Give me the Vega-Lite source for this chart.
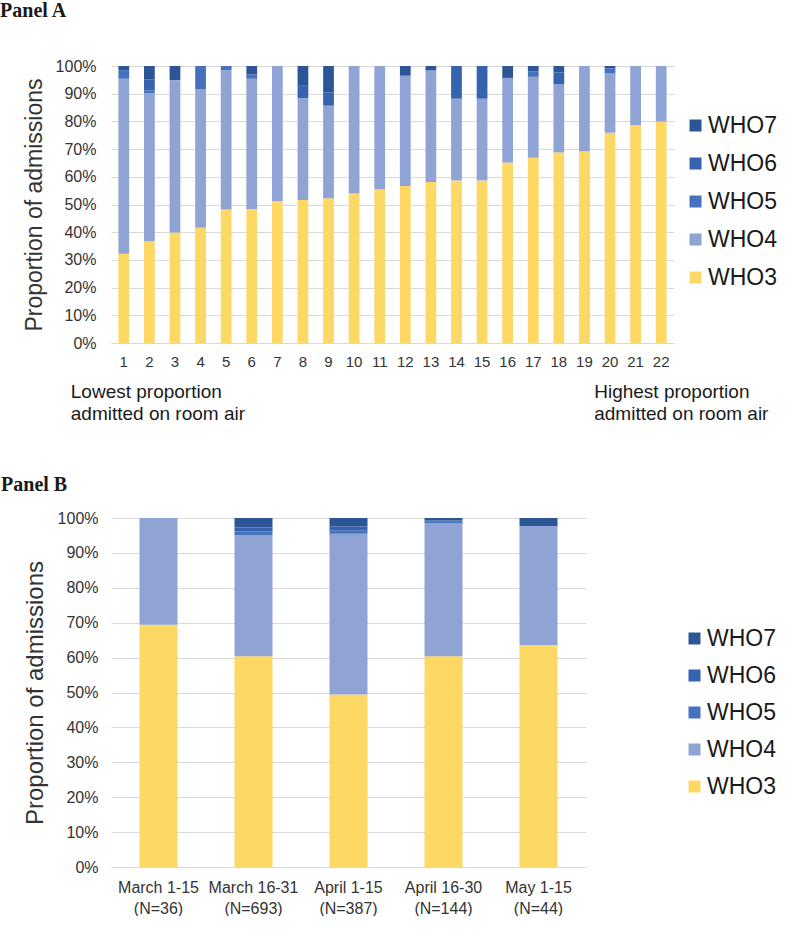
{
  "$schema": "https://vega.github.io/schema/vega-lite/v6.json",
  "padding": {"left": 0, "top": 1, "right": 0, "bottom": 0},
  "background": "white",
  "config": {
    "font": "Liberation Sans",
    "view": {"stroke": null},
    "axis": {"labelColor": "#333333", "titleColor": "#333333", "titleFontWeight": "normal", "gridColor": "#d9d9d9", "domainColor": "#d9d9d9", "ticks": false, "labelOverlap": false},
    "title": {"font": "Liberation Serif", "fontWeight": "bold", "fontSize": 20, "color": "#1a1a1a", "anchor": "start", "frame": "bounds"}
  },
  "datasets": {
    "a": [
      {"bar": 1, "who": "WHO3", "pct": 32.2}, {"bar": 1, "who": "WHO4", "pct": 63.2}, {"bar": 1, "who": "WHO5", "pct": 3.1}, {"bar": 1, "who": "WHO7", "pct": 1.5},
      {"bar": 2, "who": "WHO3", "pct": 36.7}, {"bar": 2, "who": "WHO4", "pct": 53.4}, {"bar": 2, "who": "WHO5", "pct": 1.1}, {"bar": 2, "who": "WHO6", "pct": 4.0}, {"bar": 2, "who": "WHO7", "pct": 4.8},
      {"bar": 3, "who": "WHO3", "pct": 39.9}, {"bar": 3, "who": "WHO4", "pct": 55.0}, {"bar": 3, "who": "WHO7", "pct": 5.1},
      {"bar": 4, "who": "WHO3", "pct": 41.6}, {"bar": 4, "who": "WHO4", "pct": 50.1}, {"bar": 4, "who": "WHO5", "pct": 8.3},
      {"bar": 5, "who": "WHO3", "pct": 48.2}, {"bar": 5, "who": "WHO4", "pct": 50.2}, {"bar": 5, "who": "WHO5", "pct": 1.6},
      {"bar": 6, "who": "WHO3", "pct": 48.4}, {"bar": 6, "who": "WHO4", "pct": 47.0}, {"bar": 6, "who": "WHO5", "pct": 1.6}, {"bar": 6, "who": "WHO7", "pct": 3.0},
      {"bar": 7, "who": "WHO3", "pct": 51.3}, {"bar": 7, "who": "WHO4", "pct": 48.7},
      {"bar": 8, "who": "WHO3", "pct": 51.6}, {"bar": 8, "who": "WHO4", "pct": 36.8}, {"bar": 8, "who": "WHO6", "pct": 4.7}, {"bar": 8, "who": "WHO7", "pct": 6.9},
      {"bar": 9, "who": "WHO3", "pct": 52.3}, {"bar": 9, "who": "WHO4", "pct": 33.4}, {"bar": 9, "who": "WHO6", "pct": 4.8}, {"bar": 9, "who": "WHO7", "pct": 9.5},
      {"bar": 10, "who": "WHO3", "pct": 54.0}, {"bar": 10, "who": "WHO4", "pct": 46.0},
      {"bar": 11, "who": "WHO3", "pct": 55.5}, {"bar": 11, "who": "WHO4", "pct": 44.5},
      {"bar": 12, "who": "WHO3", "pct": 56.7}, {"bar": 12, "who": "WHO4", "pct": 39.8}, {"bar": 12, "who": "WHO7", "pct": 3.5},
      {"bar": 13, "who": "WHO3", "pct": 58.1}, {"bar": 13, "who": "WHO4", "pct": 40.3}, {"bar": 13, "who": "WHO7", "pct": 1.6},
      {"bar": 14, "who": "WHO3", "pct": 58.7}, {"bar": 14, "who": "WHO4", "pct": 29.5}, {"bar": 14, "who": "WHO6", "pct": 11.8},
      {"bar": 15, "who": "WHO3", "pct": 58.7}, {"bar": 15, "who": "WHO4", "pct": 29.5}, {"bar": 15, "who": "WHO6", "pct": 11.8},
      {"bar": 16, "who": "WHO3", "pct": 65.2}, {"bar": 16, "who": "WHO4", "pct": 30.5}, {"bar": 16, "who": "WHO7", "pct": 4.3},
      {"bar": 17, "who": "WHO3", "pct": 66.9}, {"bar": 17, "who": "WHO4", "pct": 29.2}, {"bar": 17, "who": "WHO5", "pct": 2.0}, {"bar": 17, "who": "WHO7", "pct": 1.9},
      {"bar": 18, "who": "WHO3", "pct": 68.8}, {"bar": 18, "who": "WHO4", "pct": 24.6}, {"bar": 18, "who": "WHO6", "pct": 4.3}, {"bar": 18, "who": "WHO7", "pct": 2.3},
      {"bar": 19, "who": "WHO3", "pct": 69.2}, {"bar": 19, "who": "WHO4", "pct": 30.8},
      {"bar": 20, "who": "WHO3", "pct": 75.9}, {"bar": 20, "who": "WHO4", "pct": 21.4}, {"bar": 20, "who": "WHO5", "pct": 1.8}, {"bar": 20, "who": "WHO7", "pct": 0.9},
      {"bar": 21, "who": "WHO3", "pct": 78.7}, {"bar": 21, "who": "WHO4", "pct": 21.3},
      {"bar": 22, "who": "WHO3", "pct": 80.0}, {"bar": 22, "who": "WHO4", "pct": 20.0}
    ],
    "noteLeft": [{"bar": 1, "note": "Lowest proportion\nadmitted on room air"}],
    "noteRight": [{"bar": 22, "note": "Highest proportion\nadmitted on room air"}],
    "b": [
      {"period": "March 1-15 (N=36)", "who": "WHO3", "pct": 69.4}, {"period": "March 1-15 (N=36)", "who": "WHO4", "pct": 30.6},
      {"period": "March 16-31 (N=693)", "who": "WHO3", "pct": 60.4}, {"period": "March 16-31 (N=693)", "who": "WHO4", "pct": 34.7}, {"period": "March 16-31 (N=693)", "who": "WHO5", "pct": 1.0}, {"period": "March 16-31 (N=693)", "who": "WHO6", "pct": 1.2}, {"period": "March 16-31 (N=693)", "who": "WHO7", "pct": 2.7},
      {"period": "April 1-15 (N=387)", "who": "WHO3", "pct": 49.4}, {"period": "April 1-15 (N=387)", "who": "WHO4", "pct": 46.1}, {"period": "April 1-15 (N=387)", "who": "WHO5", "pct": 1.0}, {"period": "April 1-15 (N=387)", "who": "WHO6", "pct": 1.1}, {"period": "April 1-15 (N=387)", "who": "WHO7", "pct": 2.4},
      {"period": "April 16-30 (N=144)", "who": "WHO3", "pct": 60.4}, {"period": "April 16-30 (N=144)", "who": "WHO4", "pct": 38.1}, {"period": "April 16-30 (N=144)", "who": "WHO5", "pct": 0.4}, {"period": "April 16-30 (N=144)", "who": "WHO6", "pct": 0.4}, {"period": "April 16-30 (N=144)", "who": "WHO7", "pct": 0.7},
      {"period": "May 1-15 (N=44)", "who": "WHO3", "pct": 63.6}, {"period": "May 1-15 (N=44)", "who": "WHO4", "pct": 34.1}, {"period": "May 1-15 (N=44)", "who": "WHO7", "pct": 2.3}
    ]
  },
  "resolve": {"scale": {"x": "independent", "y": "independent"}, "legend": {"color": "independent"}},
  "spacing": 50,
  "vconcat": [
    {
      "title": {"text": "Panel A", "dx": -23, "offset": 37},
      "width": 563,
      "height": 277,
      "layer": [
        {
          "data": {"name": "a"},
          "mark": {"type": "bar"},
          "encoding": {
            "x": {"field": "bar", "type": "ordinal", "scale": {"paddingInner": 0.58, "paddingOuter": 0.29},
                  "axis": {"title": null, "labelAngle": 0, "labelFontSize": 15, "labelPadding": 11, "grid": false}},
            "y": {"field": "pct", "type": "quantitative", "stack": "normalize", "scale": {"domain": [0, 1]},
                  "axis": {"title": "Proportion of admissions", "titleFontSize": 23, "titlePadding": 9, "format": ".0%", "values": [0, 0.1, 0.2, 0.3, 0.4, 0.5, 0.6, 0.7, 0.8, 0.9, 1], "labelFontSize": 16, "labelPadding": 15, "labelOverlap": false, "domain": false}},
            "color": {"field": "who", "type": "nominal",
                      "scale": {"domain": ["WHO7", "WHO6", "WHO5", "WHO4", "WHO3"], "range": ["#2c5595", "#3563ae", "#4571bd", "#8fa3d4", "#fdd865"]},
                      "legend": {"title": null, "orient": "none", "legendX": 573, "legendY": 48, "symbolType": "square", "symbolSize": 144, "symbolStrokeWidth": 0, "labelFontSize": 23, "labelColor": "#1a1a1a", "labelOffset": 1, "rowPadding": 14, "padding": 0}},
            "order": {"field": "who", "sort": "ascending"}
          }
        },
        {
          "data": {"name": "noteLeft"},
          "mark": {"type": "text", "align": "left", "baseline": "top", "fontSize": 19, "lineHeight": 22, "lineBreak": "\n", "color": "#1a1a1a", "dx": -53},
          "encoding": {
            "x": {"field": "bar", "type": "ordinal"},
            "y": {"datum": -0.145, "type": "quantitative",
                  "axis": {"title": "Proportion of admissions", "titleFontSize": 23, "titlePadding": 9, "format": ".0%", "values": [0, 0.1, 0.2, 0.3, 0.4, 0.5, 0.6, 0.7, 0.8, 0.9, 1], "labelFontSize": 16, "labelPadding": 15, "labelOverlap": false, "domain": false}},
            "text": {"field": "note"}
          }
        },
        {
          "data": {"name": "noteRight"},
          "mark": {"type": "text", "align": "left", "baseline": "top", "fontSize": 19, "lineHeight": 22, "lineBreak": "\n", "color": "#1a1a1a", "dx": -67},
          "encoding": {
            "x": {"field": "bar", "type": "ordinal"},
            "y": {"datum": -0.145, "type": "quantitative",
                  "axis": {"title": "Proportion of admissions", "titleFontSize": 23, "titlePadding": 9, "format": ".0%", "values": [0, 0.1, 0.2, 0.3, 0.4, 0.5, 0.6, 0.7, 0.8, 0.9, 1], "labelFontSize": 16, "labelPadding": 15, "labelOverlap": false, "domain": false}},
            "text": {"field": "note"}
          }
        }
      ]
    },
    {
      "title": {"text": "Panel B", "dx": -22, "offset": 15},
      "data": {"name": "b"},
      "width": 475,
      "height": 349,
      "mark": {"type": "bar"},
      "encoding": {
        "x": {"field": "period", "type": "nominal", "sort": null, "scale": {"paddingInner": 0.6, "paddingOuter": 0.3},
              "axis": {"title": null, "labelAngle": 0, "labelFontSize": 16, "labelPadding": 12, "labelLineHeight": 21, "grid": false,
                       "labelExpr": "[split(datum.label, ' (')[0], '(' + split(datum.label, ' (')[1]]"}},
        "y": {"field": "pct", "type": "quantitative", "stack": "normalize", "scale": {"domain": [0, 1]},
              "axis": {"title": "Proportion of admissions", "titleFontSize": 24, "titlePadding": 10, "format": ".0%", "values": [0, 0.1, 0.2, 0.3, 0.4, 0.5, 0.6, 0.7, 0.8, 0.9, 1], "labelFontSize": 16, "labelPadding": 13, "labelOverlap": false, "domain": false}},
        "color": {"field": "who", "type": "nominal",
                  "scale": {"domain": ["WHO7", "WHO6", "WHO5", "WHO4", "WHO3"], "range": ["#2c5595", "#3563ae", "#4571bd", "#8fa3d4", "#fdd865"]},
                  "legend": {"title": null, "orient": "none", "legendX": 572, "legendY": 109, "symbolType": "square", "symbolSize": 144, "symbolStrokeWidth": 0, "labelFontSize": 23, "labelColor": "#1a1a1a", "labelOffset": 1, "rowPadding": 13, "padding": 0}},
        "order": {"field": "who", "sort": "ascending"}
      }
    }
  ]
}
